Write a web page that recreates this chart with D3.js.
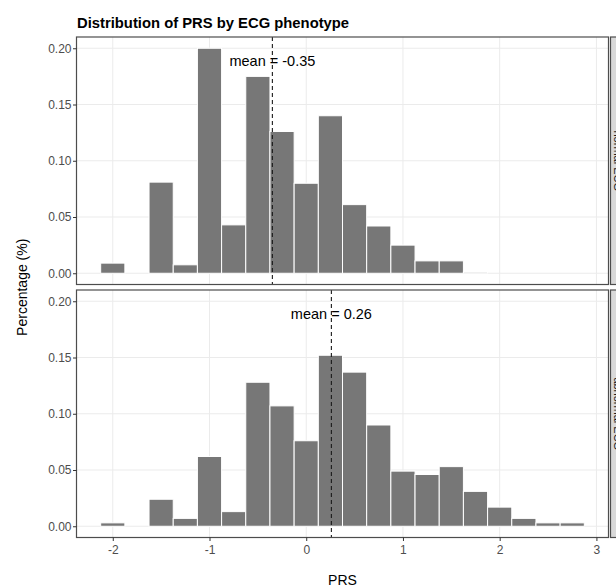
<!DOCTYPE html>
<html>
<head>
<meta charset="utf-8">
<script src="https://cdn.jsdelivr.net/npm/d3@7"></script>
<style>
  body { margin: 0; background: #fff; }
  svg { display: block; font-family: "Liberation Sans", Arial, sans-serif; }
</style>
</head>
<body>
<div id="chart"></div>
<script>
// bin centres of the histogram (binwidth 0.25)
const binCenters = [-2, -1.75, -1.5, -1.25, -1, -0.75, -0.5, -0.25, 0, 0.25,
                    0.5, 0.75, 1, 1.25, 1.5, 1.75, 2, 2.25, 2.5, 2.75];
const binWidth = 0.25;
// share of patients in each bin
const normalPct = [0.009, 0, 0.081, 0.0075, 0.200, 0.043, 0.175, 0.126, 0.080, 0.140,
                   0.061, 0.042, 0.025, 0.011, 0.011, 0.001, 0, 0, 0, 0];
const abnormalPct = [0.003, 0, 0.024, 0.007, 0.062, 0.013, 0.128, 0.107, 0.076, 0.152,
                     0.137, 0.090, 0.049, 0.046, 0.053, 0.031, 0.017, 0.007, 0.003, 0.003];
const facetNames = ["normal ECG", "abnormal ECG"];
const facetMeans = [-0.35, 0.26];
const xTicks = [-2, -1, 0, 1, 2, 3];
const yTicks = [0, 0.05, 0.1, 0.15, 0.2];

const w = 616, h = 587;
const L = 76.5, R = 608.5;
const svg = d3.select("#chart").append("svg")
  .attr("width", w).attr("height", h);

const xScale = d3.scaleLinear().domain([-2.375, 3.125]).range([L, R]);

const panels = [
  { name: facetNames[0], values: normalPct, mean: facetMeans[0], top: 37, bottom: 284.5 },
  { name: facetNames[1], values: abnormalPct, mean: facetMeans[1], top: 290, bottom: 537.5 }
];

panels.forEach((p, pi) => {
  const yScale = d3.scaleLinear().domain([-0.01, 0.21]).range([p.bottom, p.top]);
  const g = svg.append("g");

  // grid
  g.selectAll(".gx").data(xTicks).join("line")
    .attr("x1", d => xScale(d)).attr("x2", d => xScale(d))
    .attr("y1", p.top).attr("y2", p.bottom)
    .attr("stroke", "#ebebeb").attr("stroke-width", 1);
  g.selectAll(".gy").data(yTicks).join("line")
    .attr("x1", L).attr("x2", R)
    .attr("y1", d => yScale(d)).attr("y2", d => yScale(d))
    .attr("stroke", "#ebebeb").attr("stroke-width", 1);

  // bars
  const data = binCenters.map((c, i) => ({ c, v: p.values[i] })).filter(d => d.v > 0);
  g.selectAll("rect.bar").data(data).join("rect")
    .attr("class", "bar")
    .attr("x", d => xScale(d.c - binWidth / 2))
    .attr("width", d => xScale(d.c + binWidth / 2) - xScale(d.c - binWidth / 2))
    .attr("y", d => yScale(d.v))
    .attr("height", d => yScale(0) - yScale(d.v))
    .attr("fill", "#777777")
    .attr("stroke", "#ffffff")
    .attr("stroke-width", 1);

  // mean line
  g.append("line")
    .attr("x1", xScale(p.mean)).attr("x2", xScale(p.mean))
    .attr("y1", p.top).attr("y2", p.bottom)
    .attr("stroke", "#1a1a1a").attr("stroke-width", 1.1)
    .attr("stroke-dasharray", "4,3");

  g.append("text")
    .attr("x", xScale(p.mean)).attr("y", yScale(0.19))
    .attr("dy", "0.45em")
    .attr("text-anchor", "middle")
    .attr("font-size", 14.5)
    .attr("fill", "#000")
    .text(`mean = ${p.mean.toFixed(2)}`);

  // border
  g.append("rect")
    .attr("x", L).attr("y", p.top)
    .attr("width", R - L).attr("height", p.bottom - p.top)
    .attr("fill", "none").attr("stroke", "#4d4d4d").attr("stroke-width", 1.2);

  // strip (cut off by the right edge, as in the source image)
  g.append("rect")
    .attr("x", R + 2).attr("y", p.top)
    .attr("width", 22).attr("height", p.bottom - p.top)
    .attr("fill", "#d9d9d9").attr("stroke", "#4d4d4d").attr("stroke-width", 1.2);
  g.append("text")
    .attr("transform", `translate(${R + 5},${(p.top + p.bottom) / 2}) rotate(90)`)
    .attr("text-anchor", "middle")
    .attr("font-size", 11)
    .attr("fill", "#1a1a1a")
    .text(p.name);

  // y axis
  const yAxis = g.append("g")
    .attr("transform", `translate(${L},0)`)
    .call(d3.axisLeft(yScale).tickValues(yTicks).tickSize(3.5).tickPadding(1.5)
      .tickFormat(d3.format(".2f")));
  yAxis.select(".domain").remove();
  yAxis.selectAll("line").attr("stroke", "#333");
  yAxis.selectAll("text").attr("fill", "#4d4d4d").attr("font-size", 12)
    .attr("font-family", "Liberation Sans, Arial, sans-serif");

  if (pi === panels.length - 1) {
    const xAxis = g.append("g")
      .attr("transform", `translate(0,${p.bottom})`)
      .call(d3.axisBottom(xScale).tickValues(xTicks).tickSize(3.5).tickPadding(4)
        .tickFormat(d => String(d)));
    xAxis.select(".domain").remove();
    xAxis.selectAll("line").attr("stroke", "#333");
    xAxis.selectAll("text").attr("fill", "#4d4d4d").attr("font-size", 12)
      .attr("font-family", "Liberation Sans, Arial, sans-serif");
  }
});

// titles
svg.append("text")
  .attr("x", 77).attr("y", 28.3)
  .attr("font-size", 14.8).attr("font-weight", "bold")
  .text("Distribution of PRS by ECG phenotype");

svg.append("text")
  .attr("x", (L + R) / 2).attr("y", 585)
  .attr("text-anchor", "middle").attr("font-size", 14)
  .text("PRS");

svg.append("text")
  .attr("transform", `translate(26.7,${(37 + 537.5) / 2}) rotate(-90)`)
  .attr("text-anchor", "middle").attr("font-size", 14)
  .text("Percentage (%)");
</script>
</body>
</html>
